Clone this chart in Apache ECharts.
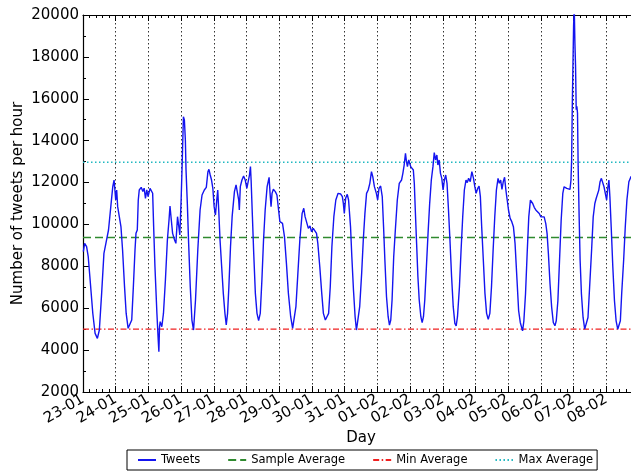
<!DOCTYPE html>
<html>
<head>
<meta charset="utf-8">
<script src="https://cdn.jsdelivr.net/npm/echarts@6/dist/echarts.min.js"></script>
<style>
  html, body { margin: 0; padding: 0; background: #fff; }
  #chart { width: 631px; height: 473px; }
</style>
</head>
<body>
<div id="chart"></div>
<script>
// day labels, one per gridline (0 = 23-01)
var dayLabels = ['23-01', '24-01', '25-01', '26-01', '27-01', '28-01', '29-01', '30-01', '31-01',
  '01-02', '02-02', '03-02', '04-02', '05-02', '06-02', '07-02', '08-02']

// tweets per hour, [day offset, value]
var tweets = [
  [0.01, 8700], [0.05, 9100], [0.11, 8940], [0.16, 8460], [0.21, 7500], [0.30, 5750], [0.37, 4800],
  [0.44, 4560], [0.50, 4960], [0.57, 6710], [0.64, 8620], [0.70, 9100], [0.78, 9735], [0.85, 10850],
  [0.91, 11800], [0.95, 12120], [0.98, 12040], [1.00, 11165], [1.03, 11645], [1.06, 10850], [1.11, 10370],
  [1.16, 9900], [1.21, 8780], [1.27, 7030], [1.32, 5750], [1.38, 5040], [1.44, 4960], [1.49, 5440],
  [1.54, 7030], [1.59, 8780], [1.62, 9575], [1.66, 9735], [1.69, 11165], [1.72, 11645], [1.78, 11772],
  [1.83, 11570], [1.87, 11730], [1.91, 11247], [1.95, 11650], [1.99, 11330], [2.05, 11725], [2.10, 11772],
  [2.13, 11490], [2.16, 9900], [2.20, 7983], [2.26, 5750], [2.30, 4480], [2.32, 3925], [2.34, 5117],
  [2.36, 5356], [2.41, 5117], [2.46, 5750], [2.52, 7346], [2.58, 9257], [2.63, 10212], [2.66, 10880],
  [2.70, 10212], [2.74, 9575], [2.80, 9257], [2.84, 9097], [2.89, 10370], [2.93, 9893], [2.96, 9495],
  [3.00, 11165], [3.03, 12759], [3.07, 15147], [3.10, 14988], [3.13, 14033], [3.15, 12600], [3.19, 11006],
  [3.23, 9097], [3.28, 7028], [3.33, 5436], [3.38, 4958],
  [3.44, 6390], [3.51, 8780], [3.58, 10690], [3.64, 11406], [3.71, 11645], [3.77, 11772], [3.82, 12520],
  [3.85, 12632], [3.89, 12360], [3.93, 12120], [3.97, 11725], [4.01, 10850], [4.05, 10450], [4.09, 11167],
  [4.12, 11645], [4.15, 10690], [4.19, 9257], [4.24, 7983], [4.29, 6710], [4.34, 5754], [4.38, 5197],
  [4.42, 5754], [4.46, 7028], [4.51, 8938], [4.56, 10371], [4.63, 11565], [4.68, 11884], [4.73, 11963],
  [4.76, 11167], [4.78, 10690], [4.81, 11804], [4.86, 12122], [4.91, 12313], [4.96, 12122], [5.01, 11725],
  [5.05, 11645], [5.09, 12360], [5.12, 12759], [5.14, 12122], [5.18, 10371], [5.22, 8620], [5.27, 6710],
  [5.32, 5754], [5.37, 5404], [5.42, 5754], [5.47, 7346], [5.52, 9257], [5.57, 10690], [5.63, 11804],
  [5.69, 12250], [5.72, 11485], [5.75, 10850], [5.78, 11485], [5.82, 11677], [5.88, 11565], [5.93, 11406],
  [5.98, 10690], [6.02, 10132], [6.10, 10053], [6.16, 9416], [6.22, 8142], [6.28, 6710], [6.35, 5595],
  [6.41, 5038], [6.45, 5117], [6.51, 6073], [6.57, 7665], [6.63, 9257],
  [6.70, 10530], [6.75, 10770], [6.79, 10371], [6.84, 10451], [6.89, 9814], [6.94, 9925], [6.99, 9654],
  [7.04, 9814], [7.10, 9814], [7.14, 9575], [7.18, 9097], [7.24, 7983], [7.30, 6710], [7.35, 5754],
  [7.41, 5436], [7.47, 5356], [7.51, 5754], [7.56, 7028], [7.61, 8938], [7.67, 10371], [7.73, 11167],
  [7.80, 11485], [7.88, 11453], [7.93, 11326], [7.96, 11008], [7.99, 10530], [8.03, 11247], [8.08, 11438],
  [8.12, 11167], [8.18, 9893], [8.22, 8460], [8.27, 6868], [8.32, 5595], [8.36, 4958], [8.39, 5277],
  [8.42, 5356], [8.46, 6073], [8.52, 7665], [8.57, 9257], [8.62, 10530], [8.67, 11485], [8.72, 11645],
  [8.77, 11963], [8.82, 12520], [8.86, 12281], [8.91, 11804], [8.97, 11485], [9.01, 11167], [9.05, 11724],
  [9.10, 11836], [9.15, 11326], [9.19, 9893], [9.23, 8300], [9.28, 6550], [9.33, 5595], [9.37, 5197],
  [9.41, 5436], [9.45, 6390], [9.50, 8460], [9.55, 9734], [9.61, 11167], [9.67, 11963], [9.74, 12122],
  [9.78, 12440], [9.82, 12838], [9.86, 13396], [9.89, 12998], [9.92, 12759], [9.96, 13078],
  [10.02, 12759], [10.06, 12838], [10.10, 12600], [10.13, 11963], [10.16, 10690], [10.20, 9097],
  [10.24, 7506], [10.28, 6390], [10.33, 5595], [10.37, 5309], [10.41, 5595], [10.45, 6390], [10.50, 7983],
  [10.55, 9575], [10.60, 11008], [10.65, 12122], [10.70, 12759], [10.74, 13428], [10.78, 13078],
  [10.82, 13316], [10.85, 12838], [10.89, 13078], [10.93, 12440], [10.97, 12202], [11.01, 11645],
  [11.05, 12122], [11.09, 12360], [11.13, 11963], [11.17, 10849], [11.22, 9257], [11.27, 7506],
  [11.32, 6073], [11.37, 5277], [11.41, 5150], [11.45, 5595], [11.51, 7028], [11.56, 8780], [11.61, 10371],
  [11.66, 11645], [11.71, 12122], [11.75, 11995], [11.79, 12202], [11.84, 12043], [11.89, 12520],
  [11.94, 12202], [11.98, 11804], [12.02, 11485], [12.07, 11724], [12.11, 11836], [12.15, 11326],
  [12.19, 9893], [12.24, 8300], [12.29, 6710], [12.34, 5754], [12.39, 5468], [12.44, 5754], [12.49, 7028],
  [12.54, 8780], [12.59, 10371], [12.64, 11645], [12.69, 12202], [12.73, 11963], [12.77, 12122],
  [12.81, 11677], [12.85, 12043], [12.89, 12250], [12.93, 11645], [12.97, 11167], [13.01, 10690],
  [13.06, 10292], [13.11, 10132], [13.16, 9893], [13.21, 9097], [13.27, 7346],
  [13.32, 5880], [13.37, 5320], [13.44, 4920], [13.48, 5400], [13.53, 6680], [13.58, 8600], [13.63, 10360],
  [13.68, 11160], [13.71, 11160], [13.75, 11000], [13.80, 10808], [13.85, 10680], [13.90, 10600],
  [13.95, 10520], [14.00, 10360], [14.05, 10440], [14.10, 10360], [14.15, 10040], [14.19, 9560],
  [14.23, 8600], [14.28, 7160], [14.33, 6040], [14.38, 5320], [14.43, 5160], [14.47, 5400], [14.52, 6360],
  [14.57, 8280], [14.62, 10200], [14.67, 11480], [14.71, 11800], [14.75, 11880], [14.79, 11720],
  [14.84, 11800], [14.89, 11672], [14.92, 12120], [14.94, 13080], [14.96, 15640], [14.98, 17560],
  [15.00, 19480], [15.02, 20400], [15.04, 18680], [15.06, 17560], [15.08, 15480], [15.10, 15640],
  [15.12, 15320], [15.14, 12760], [15.17, 10360], [15.20, 8280], [15.24, 6680], [15.29, 5560],
  [15.34, 5000], [15.39, 4920], [15.44, 5560], [15.49, 7000], [15.55, 8760], [15.60, 10360], [15.65, 11000],
  [15.69, 11240], [15.73, 11160], [15.77, 11640], [15.81, 12040], [15.85, 12200], [15.89, 12280],
  [15.93, 11800], [15.97, 11480], [16.01, 11160], [16.05, 11800], [16.08, 12120], [16.11, 11320],
  [16.15, 9880], [16.20, 7960], [16.25, 6360], [16.30, 5400], [16.35, 5000], [16.39, 4920], [16.43, 5400],
  [16.47, 6680], [16.53, 8280], [16.58, 9880], [16.63, 11160], [16.69, 12040], [16.76, 12300]
]

var sampleAverage = [9380]
var minAverage = [5000]
var maxAverage = [12970]
var dayRange = [0, 17]
var yTicks = [2000, 20000, 2000]

var font = 'DejaVu Sans'

function flat(v) {
  return [[dayRange[0], v], [dayRange[1], v]]
}

var myChart = echarts.init(document.getElementById('chart'), null, { renderer: 'canvas' })

var option = {
  animation: false,
  backgroundColor: '#fff',
  textStyle: { fontFamily: font },
  grid: { left: 83, top: 15, width: 556, height: 377, outerBoundsMode: 'none', containLabel: false },
  legend: {
    left: 127,
    top: 450,
    padding: [4, 4, 4, 10],
    itemWidth: 18,
    itemHeight: 10,
    itemGap: 27,
    borderColor: '#000',
    borderWidth: 1,
    itemStyle: { opacity: 0 },
    textStyle: { fontFamily: font, fontSize: 11.5, color: '#000' },
    data: ['Tweets', 'Sample Average', 'Min Average', 'Max Average']
  },
  xAxis: [
    {
      type: 'value',
      min: dayRange[0],
      max: dayRange[1],
      interval: 1,
      name: 'Day',
      nameLocation: 'middle',
      nameGap: 39,
      nameMoveOverlap: false,
      nameTextStyle: { fontFamily: font, fontSize: 15, color: '#000' },
      axisLine: { show: true, lineStyle: { color: '#000', width: 1.2 } },
      axisTick: { show: true, inside: true, length: 6, lineStyle: { color: '#000' } },
      minorTick: { show: true, splitNumber: 5, length: 3, lineStyle: { color: '#000' } },
      splitLine: { show: true, lineStyle: { color: '#333', type: [1.5, 2.5], width: 1 } },
      axisLabel: {
        rotate: 30,
        margin: 6,
        fontFamily: font,
        fontSize: 15,
        color: '#000',
        formatter: function (v) {
          return dayLabels[v] || ''
        }
      }
    },
    {
      type: 'value',
      position: 'top',
      min: dayRange[0],
      max: dayRange[1],
      interval: 1,
      axisLine: { show: true, lineStyle: { color: '#000', width: 1.2 } },
      axisTick: { show: true, inside: true, length: 6, lineStyle: { color: '#000' } },
      minorTick: { show: true, splitNumber: 5, length: 3, lineStyle: { color: '#000' } },
      splitLine: { show: false },
      axisLabel: { show: false }
    }
  ],
  yAxis: {
    type: 'value',
    min: yTicks[0],
    max: yTicks[1],
    interval: yTicks[2],
    name: 'Number of tweets per hour',
    nameLocation: 'middle',
    nameGap: 57,
    nameMoveOverlap: false,
    nameTextStyle: { fontFamily: font, fontSize: 15, color: '#000' },
    axisLine: { show: true, lineStyle: { color: '#000', width: 1.2 } },
    axisTick: { show: true, inside: true, length: 6, lineStyle: { color: '#000' } },
    minorTick: { show: true, splitNumber: 2, length: 3, lineStyle: { color: '#000' } },
    splitLine: { show: false },
    axisLabel: {
      fontFamily: font,
      fontSize: 15,
      color: '#000',
      margin: 4,
      formatter: function (v) {
        return String(v)
      }
    }
  },
  series: [
    {
      name: 'Tweets',
      type: 'line',
      data: tweets,
      symbol: 'none',
      clip: true,
      lineStyle: { color: '#1414f0', width: 1.4 },
      itemStyle: { color: '#1414f0' },
      z: 5
    },
    {
      name: 'Sample Average',
      type: 'line',
      data: flat(sampleAverage[0]),
      symbol: 'none',
      lineStyle: { color: '#2f8a2f', width: 1.6, type: [8, 4] },
      itemStyle: { color: '#2f8a2f' }
    },
    {
      name: 'Min Average',
      type: 'line',
      data: flat(minAverage[0]),
      symbol: 'none',
      lineStyle: { color: '#f02020', width: 1.4, type: [6, 2.5, 1.5, 2.5] },
      itemStyle: { color: '#f02020' }
    },
    {
      name: 'Max Average',
      type: 'line',
      data: flat(maxAverage[0]),
      symbol: 'none',
      lineStyle: { color: '#20b8c0', width: 1.3, type: [1.5, 2.5] },
      itemStyle: { color: '#20b8c0' }
    }
  ]
}

myChart.setOption(option)
</script>
</body>
</html>
